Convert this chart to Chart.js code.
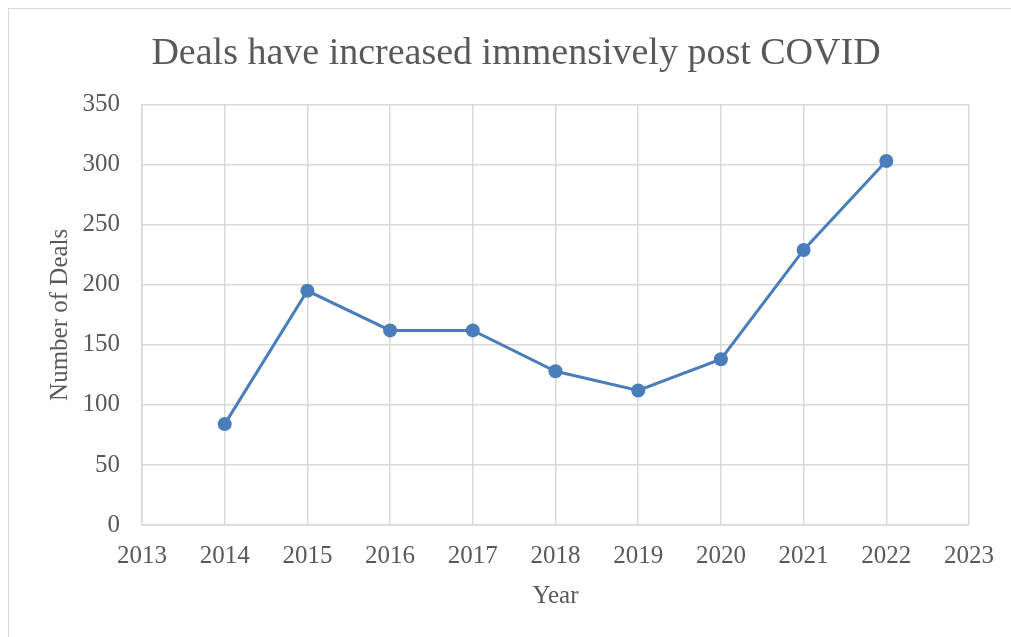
<!DOCTYPE html>
<html lang="en">
<head>
    <meta charset="UTF-8">
    <title>Deals per Year</title>
    <style>
        body {
            margin: 0;
            padding: 0;
            background: #ffffff;
            overflow: hidden;
        }

        .frame {
            position: absolute;
            left: 8px;
            top: 8px;
            width: 1020px;
            height: 640px;
            border: 1.5px solid #d9d9d9;
            box-sizing: border-box;
        }

        .chart-box {
            position: absolute;
            left: 0;
            top: 0;
            width: 1011px;
            height: 637px;
        }
    </style>
    <script src="https://cdn.jsdelivr.net/npm/chart.js"></script>
</head>
<body>
    <div class="frame"></div>
    <div class="chart-box">
        <canvas id="dealsChart" width="1011" height="637"></canvas>
    </div>

    <script>
        const years = [2014, 2015, 2016, 2017, 2018, 2019, 2020, 2021, 2022];
        const deals = [84, 195, 162, 162, 128, 112, 138, 229, 303];
        const xRange = [2013, 2023];
        const yRange = [0, 350];

        const textColor = '#595959';
        const gridColor = '#d9d9d9';
        const lineColor = '#4a7ebb';
        const fontFamily = "'Liberation Serif', serif";

        const points = years.map((y, i) => ({ x: y, y: deals[i] }));

        new Chart(document.getElementById('dealsChart'), {
            type: 'line',
            data: {
                datasets: [{
                    label: 'Number of Deals',
                    data: points,
                    borderColor: lineColor,
                    backgroundColor: lineColor,
                    borderWidth: 3,
                    pointRadius: 7,
                    pointBorderWidth: 0,
                    tension: 0
                }]
            },
            options: {
                responsive: false,
                animation: false,
                // left/right padding also centres the title like the original
                layout: {
                    padding: { left: 63, right: 42, top: 0, bottom: 0 }
                },
                plugins: {
                    legend: { display: false },
                    tooltip: { enabled: false },
                    title: {
                        display: true,
                        text: 'Deals have increased immensively post COVID',
                        color: textColor,
                        font: { family: fontFamily, size: 38, weight: 'normal' },
                        padding: { top: 31, bottom: 28 }
                    }
                },
                scales: {
                    x: {
                        type: 'linear',
                        min: xRange[0],
                        max: xRange[1],
                        afterFit: (scale) => { scale.height = 112; },
                        ticks: {
                            stepSize: 1,
                            color: textColor,
                            padding: 16,
                            font: { family: fontFamily, size: 25 },
                            callback: (v) => String(v)
                        },
                        grid: { color: gridColor, lineWidth: 1.5, drawTicks: false },
                        border: { color: gridColor, width: 1.5 },
                        title: {
                            display: true,
                            text: 'Year',
                            color: textColor,
                            font: { family: fontFamily, size: 25 },
                            padding: { top: 4, bottom: 26 }
                        }
                    },
                    y: {
                        min: yRange[0],
                        max: yRange[1],
                        afterFit: (scale) => { scale.width = 79; },
                        ticks: {
                            stepSize: 50,
                            color: textColor,
                            padding: 22,
                            font: { family: fontFamily, size: 25 }
                        },
                        grid: { color: gridColor, lineWidth: 1.5, drawTicks: false },
                        border: { color: gridColor, width: 1.5 },
                        title: {
                            display: true,
                            text: 'Number of Deals',
                            color: textColor,
                            font: { family: fontFamily, size: 25 },
                            padding: { top: -18, bottom: 0 }
                        }
                    }
                }
            }
        });
    </script>
</body>
</html>
